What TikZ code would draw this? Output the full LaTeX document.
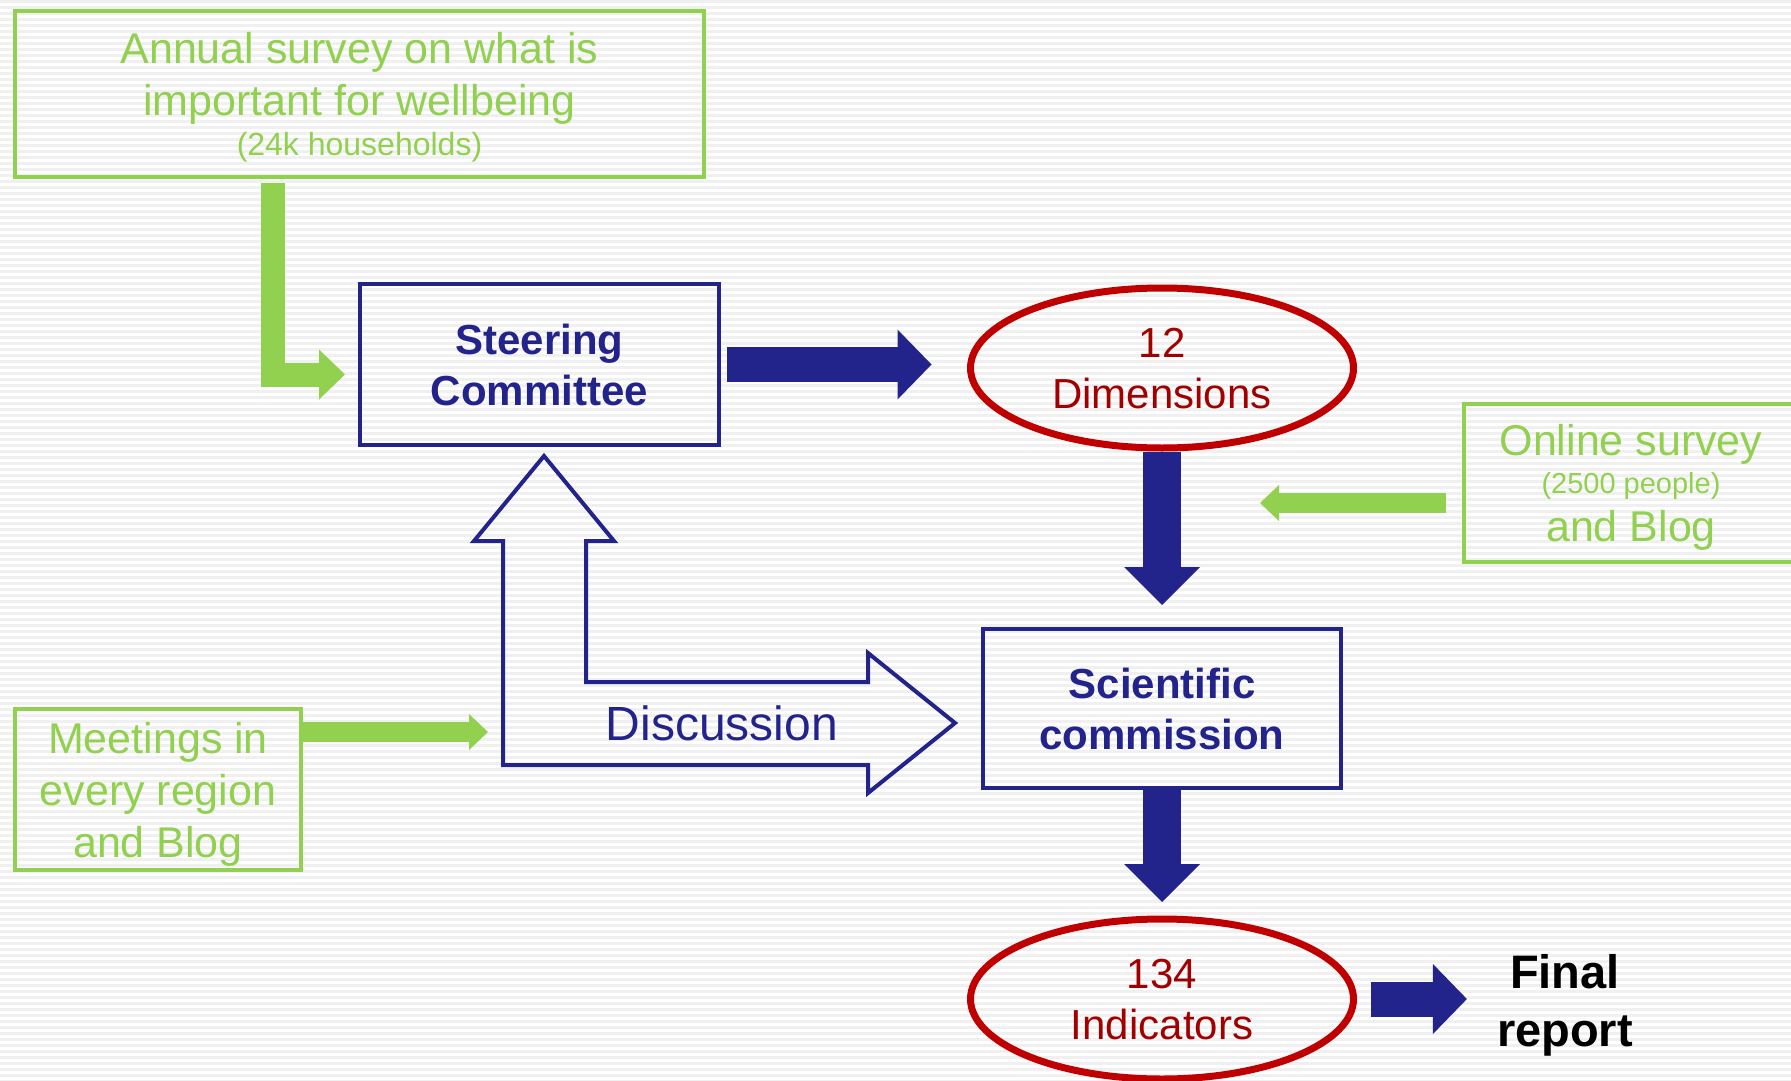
\documentclass[tikz,border=0pt]{standalone}
\usepackage{fontspec}
\setmainfont{Liberation Sans}
\usetikzlibrary{arrows.meta,shapes.geometric}
\definecolor{leaf}{HTML}{92D050}
\definecolor{navy}{HTML}{23238C}
\definecolor{ring}{HTML}{C00000}
\definecolor{wine}{HTML}{A00000}
\definecolor{stripe}{HTML}{F0F0F0}
\tikzset{
  survey/.style={draw=leaf, line width=4pt, text=leaf, align=center, inner sep=0pt,
    font=\fontsize{43}{52}\selectfont},
  panel/.style={draw=navy, line width=4pt, text=navy, align=center, inner sep=0pt,
    font=\fontsize{42}{51}\selectfont\bfseries},
  tally/.style={ellipse, draw=ring, line width=7pt, text=wine, align=center, inner sep=0pt,
    minimum width=383pt, minimum height=160pt, text depth=-6.9pt, font=\fontsize{42}{51}\selectfont},
  fat/.style={navy, line width=35pt, -{Triangle[length=34pt, width=70pt, line width=0pt]}},
  fatdown/.style={navy, line width=38pt, -{Triangle[length=38pt, width=76pt, line width=0pt]}},
  feed/.style={leaf, line width=20pt, -{Triangle[length=19pt, width=36pt, line width=0pt]}},
  hollow/.style={draw=navy, line width=4pt, miter limit=20},
}
\begin{document}
\begin{tikzpicture}[x=1pt, y=-1pt]
\useasboundingbox (0,0) rectangle (1791,1081);
\fill[white] (0,0) rectangle (1791,1081);
\foreach \y in {0,6,...,1080} \fill[stripe] (0,\y) rectangle (1791,\y+3);
\node[survey, minimum width=689pt, minimum height=166pt, text depth=-6.7pt] (annual) at (359.5,94)
  {Annual survey on what is\\important for wellbeing\\[-12pt]{\fontsize{32}{38}\selectfont (24k households)}};
\node[survey, minimum width=334pt, minimum height=158pt, text depth=-6.4pt] (online) at (1631,483)
  {Online survey\\[-14pt]{\fontsize{29}{35}\selectfont (2500 people)}\\[-3.5pt]and Blog};
\node[survey, minimum width=286pt, minimum height=161pt, text depth=0pt] (meet) at (158,789.5)
  {Meetings in\\every region\\and Blog};
\node[panel, minimum width=359pt, minimum height=161pt, text depth=-4.5pt] (steer) at (539.5,364.5) {Steering\\Committee};
\node[panel, minimum width=358pt, minimum height=159pt] (sci) at (1162,708.5) {Scientific\\commission};
\node[tally] (dim) at (1162,368) {12\\Dimensions};
\node[tally] (ind) at (1162,999) {134\\Indicators};
\node[align=center, inner sep=0pt, font=\fontsize{47}{58}\selectfont\bfseries] (final) at (1565,1005.4) {Final\\report};
\draw[hollow] (503,765) -- (503,541) -- (474,541) -- (544,456) -- (614,541) -- (586,541) -- (586,682)
  -- (868,682) -- (868,653) -- (955,723) -- (868,793) -- (868,765) -- cycle;
\node[text=navy, inner sep=0pt, font=\fontsize{48}{58}\selectfont] (talk) at (722,723.3) {Discussion};
\coordinate (gap) at (1260,503);
\coordinate (gate) at (488,732);
\draw[feed, line width=24pt, -{Triangle[length=26pt, width=50pt, line width=0pt]}, shorten >=13pt]
  ([xshift=-86.5pt, yshift=-4pt]annual.south) |- ([yshift=-10pt]steer.west);
\draw[fat, shorten <=6pt, shorten >=35.5pt] (steer.east) -- (steer.east -| dim.west);
\draw[fatdown, shorten >=22pt] (dim.south) -- (sci.north);
\draw[fatdown, shorten >=13.5pt] (sci.south) -- (ind.north);
\draw[fat, shorten <=13.5pt, shorten >=30pt] (ind.east) -- (ind.east -| final.west);
\draw[feed, shorten <=16pt] ([yshift=-20pt]online.west) -- (gap);
\draw[feed] ([yshift=57.5pt]meet.east) -- (gate);
\end{tikzpicture}
\end{document}
